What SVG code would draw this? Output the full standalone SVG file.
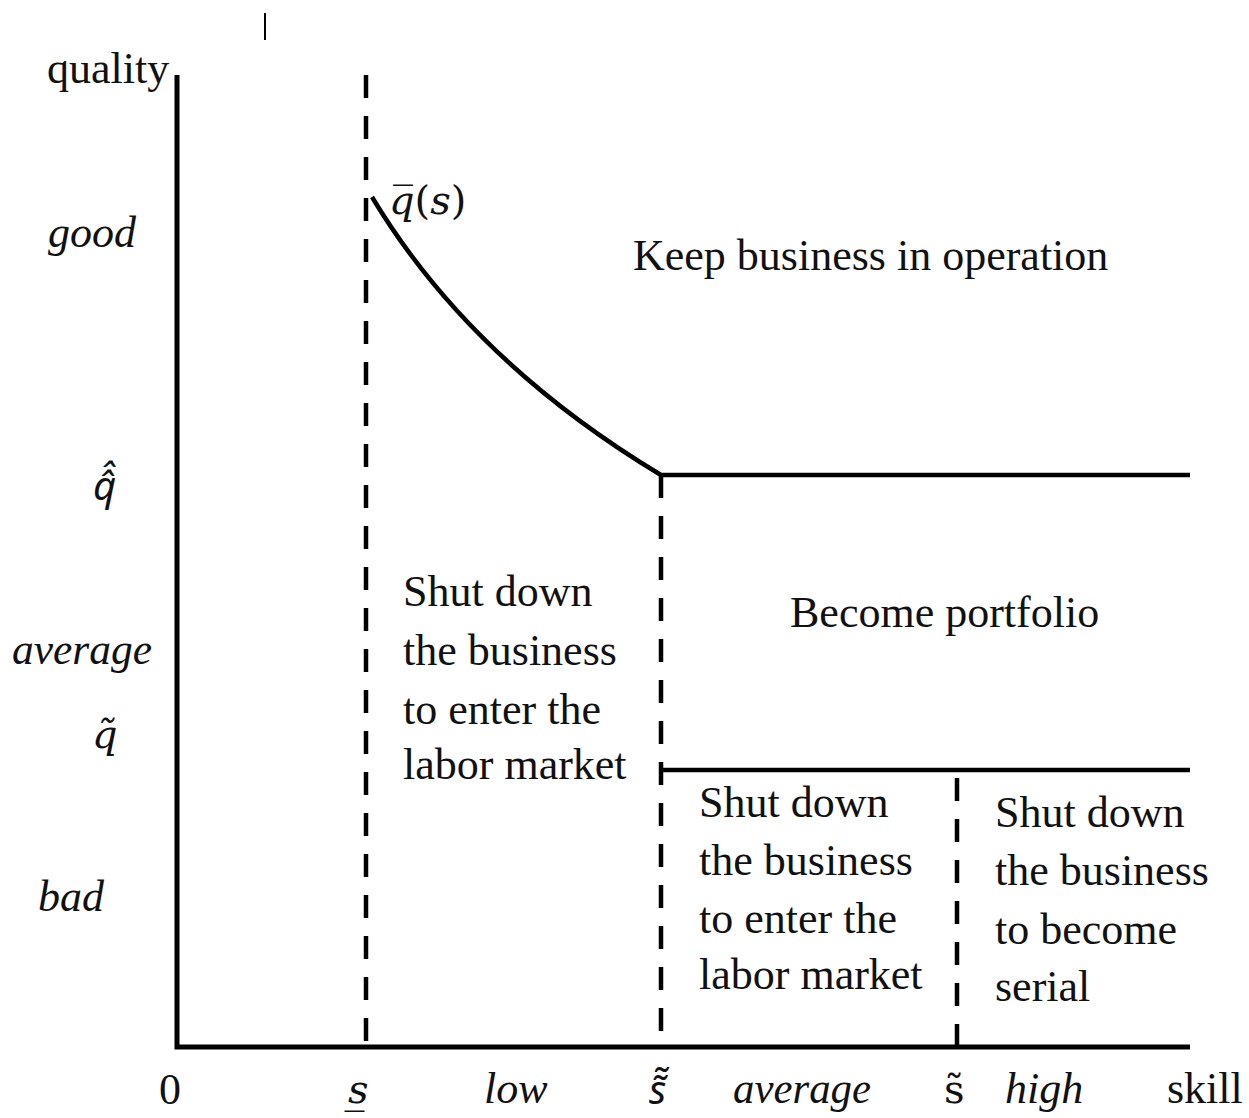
<svg xmlns="http://www.w3.org/2000/svg" width="1249" height="1118" viewBox="0 0 1249 1118">
<style>
.t{font-family:"Liberation Serif","Times New Roman",serif;font-size:44px;fill:#111}
.i{font-family:"Liberation Serif","Times New Roman",serif;font-size:44px;font-style:italic;fill:#111}
.m{font-family:"DejaVu Serif","Liberation Serif",serif;font-size:40px;font-style:italic;fill:#111}
.n{font-family:"Noto Sans","DejaVu Sans",sans-serif;font-size:40px;font-style:italic;fill:#111}
.u{font-style:normal}
.ax{stroke:#000;stroke-width:5;fill:none}
.dash{stroke:#000;stroke-width:4.5;fill:none;stroke-dasharray:23 18}
.solid{stroke:#000;stroke-width:4.5;fill:none}
.thin{stroke:#000;stroke-width:2;fill:none}
</style>
<rect width="1249" height="1118" fill="#fff"/>
<g id="connectors">
<line class="thin" x1="265" y1="13" x2="265" y2="40"/>
<path id="axes" class="ax" d="M177,75 L177,1047 L1190,1047"/>
<line class="dash" x1="366" y1="75" x2="366" y2="1045"/>
<line class="dash" x1="661" y1="475" x2="661" y2="1045"/>
<line class="dash" x1="957" y1="778" x2="957" y2="1045"/>
<path class="solid" d="M372,197 Q470,360 661,475 L1190,475"/>
<line class="solid" x1="661" y1="770" x2="1190" y2="770"/>
</g>
<g id="yaxis-labels">
<text class="t" x="47" y="83">quality</text>
<text class="i" x="48" y="247">good</text>
<text class="i" x="12" y="664" textLength="140" lengthAdjust="spacingAndGlyphs">average</text>
<text class="i" x="38" y="911">bad</text>
<text class="n" x="93" y="500">q̂̂</text>
<text class="m" x="92" y="748">q̃</text>
</g>
<g id="xaxis-labels">
<text class="t" x="159" y="1104">0</text>
<text class="m" x="348" y="1103">s̲</text>
<text class="i" x="484" y="1103">low</text>
<text class="n" x="649" y="1104">s̃̃</text>
<text class="i" x="733" y="1103" textLength="138" lengthAdjust="spacingAndGlyphs">average</text>
<text class="m u" x="944" y="1103">s̃</text>
<text class="i" x="1005" y="1103">high</text>
<text class="t" x="1167" y="1103">skill</text>
</g>
<g id="curve-label">
<text class="m" x="389" y="214" font-size="45">q̅<tspan class="u">(</tspan>s<tspan class="u">)</tspan></text>
</g>
<g id="keep">
<text class="t" x="633" y="270">Keep business in operation</text>
</g>
<g id="portfolio">
<text class="t" x="790" y="627">Become portfolio</text>
</g>
<g id="shutdown-low">
<text class="t" x="403" y="606">Shut down</text>
<text class="t" x="403" y="665">the business</text>
<text class="t" x="403" y="724">to enter the</text>
<text class="t" x="403" y="779">labor market</text>
</g>
<g id="shutdown-average">
<text class="t" x="699" y="817">Shut down</text>
<text class="t" x="699" y="875">the business</text>
<text class="t" x="699" y="933">to enter the</text>
<text class="t" x="699" y="989">labor market</text>
</g>
<g id="shutdown-high">
<text class="t" x="995" y="827">Shut down</text>
<text class="t" x="995" y="885">the business</text>
<text class="t" x="995" y="944">to become</text>
<text class="t" x="995" y="1001">serial</text>
</g>
</svg>
